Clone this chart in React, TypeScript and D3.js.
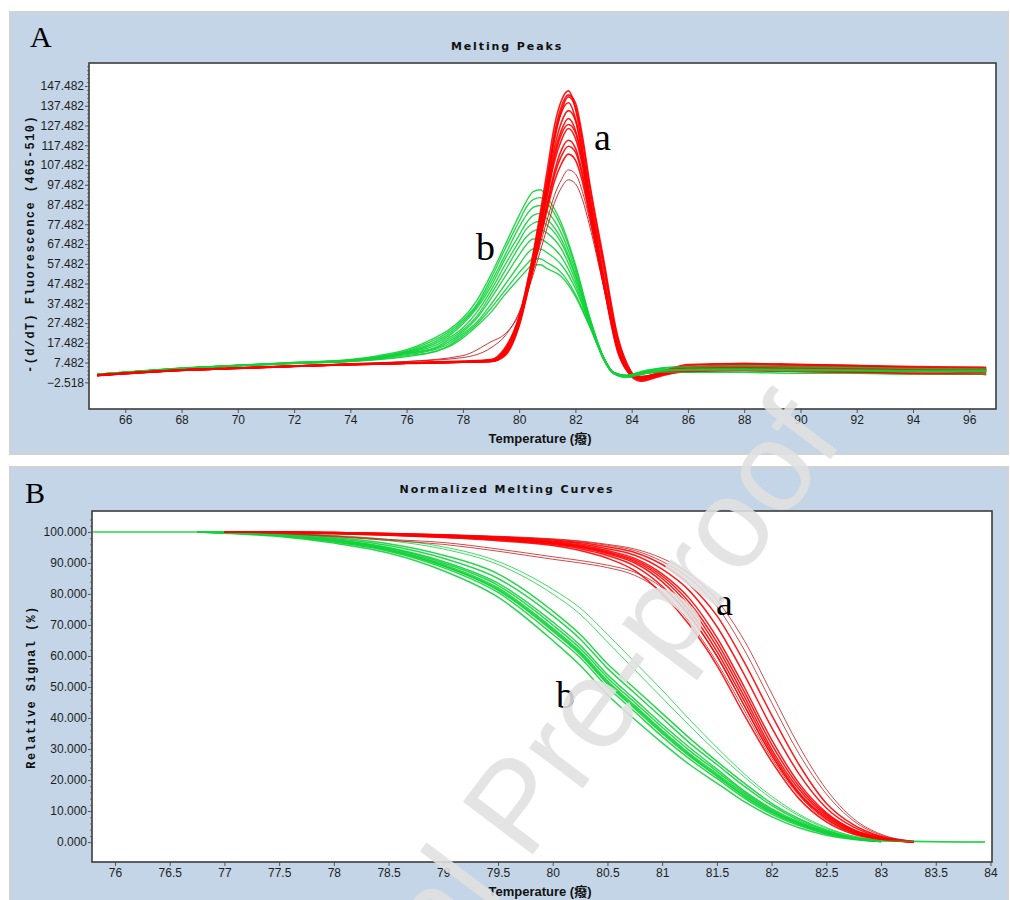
import { useEffect, useRef } from "react"
import * as d3 from "d3"

// ---- Panel A: melting peaks, -(d/dT) fluorescence vs temperature ----
const peakTempsRed = [65, 66, 68, 70, 72, 74, 76, 78, 79, 79.5, 80, 80.5, 81, 81.25, 81.5, 81.75, 82, 82.25, 82.5, 83, 83.5, 83.85, 84.3, 85, 86, 88, 90, 92, 94, 96.6]
const peakRed = [
  [1.0, 2.0, 3.5, 4.5, 5.5, 6.5, 7.2, 7.8, 8.2, 13, 30, 63, 105, 127, 140, 145, 136, 116, 92, 50, 14, 3, -2, 0.5, 3.5, 4.5, 4.0, 3.5, 3.0, 2.5],
  [1.1, 2.1, 3.7, 4.7, 5.7, 6.6, 7.3, 7.9, 8.1, 11.5, 27, 59, 100, 123, 137, 143, 139, 122, 99, 60, 21, 6.5, -1, 1.5, 5, 6.5, 6, 5.5, 5, 4.5],
  [1.2, 2.2, 3.8, 4.8, 5.8, 6.6, 7.3, 7.9, 8.0, 11, 26, 57, 98, 120, 135, 142, 137, 120, 97, 58, 20, 6, -1.5, 1, 4, 5, 4.5, 4, 3.5, 3],
  [0.8, 1.8, 3.6, 4.6, 5.6, 6.4, 7.0, 7.6, 8.5, 14, 31, 62, 101, 121, 134, 139, 131, 112, 89, 47, 13, 3, -1, 1.5, 4.5, 5, 5, 4.5, 4, 3.5],
  [1.0, 2.1, 3.7, 4.7, 5.7, 6.5, 7.1, 7.7, 8.0, 12, 27, 58, 96, 116, 129, 135, 130, 114, 93, 56, 19, 5, -0.5, 2, 5, 5.5, 5, 5, 4.5, 4],
  [1.1, 2.0, 3.6, 4.6, 5.6, 6.5, 7.2, 7.9, 8.3, 13, 29, 59, 95, 113, 125, 131, 125, 109, 88, 48, 14, 3.5, -1, 1, 3, 3.5, 3, 2.5, 2, 1.5],
  [1.0, 2.0, 3.6, 4.6, 5.6, 6.4, 7.1, 7.7, 8.2, 12.5, 28, 57, 93, 111, 123, 128, 124, 110, 90, 52, 17, 4.5, -0.5, 2, 6, 7, 6.5, 6, 5.5, 5],
  [0.9, 1.9, 3.5, 4.5, 5.5, 6.4, 7.1, 7.8, 8.6, 14, 30, 58, 92, 109, 120, 126, 121, 107, 87, 49, 15, 4, 0, 2, 4.5, 5.5, 5, 5, 5, 4.5],
  [1.0, 2.0, 3.6, 4.6, 5.6, 6.5, 7.2, 7.8, 8.4, 13, 28, 55, 88, 104, 115, 120, 116, 103, 85, 48, 15, 4, -0.5, 1.5, 4, 5, 5, 4.5, 4, 3.5],
  [1.1, 2.1, 3.7, 4.7, 5.7, 6.6, 7.3, 8, 8.8, 14, 29, 56, 87, 102, 112, 117, 114, 102, 84, 49, 16, 4, 0, 2.5, 6.5, 7, 6.5, 6, 5, 5],
  [1.2, 2.2, 3.7, 4.7, 5.7, 6.6, 7.4, 8.2, 9, 15, 30, 55, 85, 99, 108, 113, 110, 99, 82, 47, 15, 4, 0, 2, 3, 3.5, 3, 2.5, 2, 1.5],
]
const peakRedDark = [
  [1.0, 2.0, 3.6, 4.6, 5.8, 6.8, 8.0, 10, 15, 21, 33, 55, 80, 92, 100, 105, 103, 94, 80, 47, 15, 4, 0.5, 2, 4.5, 5.5, 5.5, 5, 4.5, 4],
  [1.0, 2.0, 3.6, 4.6, 5.8, 7.0, 8.0, 11, 18, 22, 32, 52, 76, 88, 96, 100, 98, 90, 77, 46, 15, 4, 0.5, 2, 4.5, 5, 5, 5, 4.5, 4],
]
const peakTempsGreen = [65, 66, 68, 70, 72, 74, 75, 76, 77, 77.5, 78, 78.5, 79, 79.5, 80, 80.25, 80.5, 80.75, 81, 81.5, 82, 82.5, 83, 83.35, 83.8, 84.5, 85, 86, 88, 90, 92, 94, 96.6]
const peakGreen = [
  [1.5, 2.5, 4.5, 6, 7.5, 9, 11, 14, 20, 24, 30, 39, 52, 67, 82, 89, 94, 95, 91, 78, 57, 31, 10, 2, 0, 2, 3, 4, 4, 3.5, 3.5, 3, 3],
  [1.4, 2.6, 4.6, 6.1, 7.4, 8.8, 10.5, 13.5, 19, 23, 29, 37, 50, 65, 79, 86, 90, 91, 88, 76, 56, 30, 10, 2.5, 0.5, 3, 4.5, 5.5, 6, 5.5, 5, 4.5, 4.5],
  [1.5, 2.5, 4.5, 6, 7.3, 8.7, 10.3, 13, 18, 22, 28, 36, 48, 62, 76, 82, 86, 87, 84, 73, 54, 30, 10, 2, 0, 2, 3, 3.5, 3.5, 3, 3, 3, 2.5],
  [1.6, 2.7, 4.7, 6.2, 7.5, 8.7, 10.2, 12.8, 17, 21, 27, 35, 46, 60, 72, 78, 82, 83, 80, 70, 52, 29, 9, 2, 0.5, 2.5, 3.5, 4, 4.5, 4, 4, 3.5, 3.5],
  [1.5, 2.5, 4.5, 6, 7.3, 8.5, 10, 12.5, 16, 20, 25, 33, 44, 57, 69, 75, 78, 79, 77, 68, 51, 29, 10, 2.5, 1, 3, 3.5, 4, 4, 4, 3.5, 3.5, 3.5],
  [1.4, 2.4, 4.4, 5.9, 7.2, 8.4, 9.8, 12.2, 15, 19, 24, 31, 42, 54, 66, 71, 74, 75, 73, 65, 49, 28, 10, 2.5, 0.5, 2, 2.5, 2.5, 2.5, 2, 2, 1.5, 1.5],
  [1.5, 2.5, 4.5, 6, 7.2, 8.3, 9.6, 12, 14.5, 18, 23, 30, 40, 51, 62, 67, 70, 70, 68, 61, 47, 27, 9, 2, 0.5, 2.5, 3, 3.5, 4, 3.5, 3.5, 3, 3],
  [1.5, 2.5, 4.5, 5.9, 7.1, 8.2, 9.4, 11.5, 14, 17, 22, 28, 37, 47, 57, 62, 65, 65, 63, 57, 45, 27, 10, 2.5, 1, 3.5, 4.5, 5, 5.5, 5, 5, 4.5, 4],
  [1.6, 2.6, 4.6, 6, 7.1, 8.1, 9.2, 11, 13, 16, 21, 27, 35, 44, 53, 57, 60, 60, 58, 53, 42, 26, 10, 2.5, 1, 3, 3.5, 4, 4, 3.5, 3.5, 3, 3],
  [1.5, 2.5, 4.5, 5.8, 7, 8, 9, 10.5, 13, 15.5, 20, 26, 33, 42, 50, 54, 57, 57, 55, 51, 41, 26, 10, 2.5, 1, 3, 3.5, 4, 4, 4, 3.5, 3, 3],
]
const peakTicksY = [-2.518, 7.482, 17.482, 27.482, 37.482, 47.482, 57.482, 67.482, 77.482, 87.482, 97.482, 107.482, 117.482, 127.482, 137.482, 147.482]
const peakTicksX = [66, 68, 70, 72, 74, 76, 78, 80, 82, 84, 86, 88, 90, 92, 94, 96]

// ---- Panel B: normalized melting curves, relative signal (%) ----
const normTempsRed = [77, 77.5, 78, 78.5, 79, 79.5, 80, 80.25, 80.5, 80.75, 81, 81.25, 81.5, 81.75, 82, 82.25, 82.5, 82.75, 83, 83.3]
const normRed = [
  [100, 99.8, 99.4, 98.9, 98.2, 97.2, 95.6, 94, 91.5, 87.5, 80, 70, 57, 41, 26, 14, 6.5, 2.5, 0.8, 0],
  [100, 99.9, 99.5, 99, 98.4, 97.5, 96, 94.6, 92.4, 89, 82.5, 73, 60, 44, 28, 15.5, 7.5, 3, 1, 0],
  [100, 99.9, 99.6, 99.1, 98.5, 97.6, 96.2, 95, 93, 90, 84, 74.5, 61.5, 45.5, 29, 16, 8, 3.3, 1.1, 0],
  [100, 99.9, 99.6, 99.2, 98.6, 97.8, 96.5, 95.3, 93.3, 90.5, 85, 76, 63, 47, 30, 17, 8.5, 3.6, 1.2, 0],
  [100, 100, 99.7, 99.2, 98.7, 97.9, 96.6, 95.5, 93.6, 91, 85.8, 77.2, 64.5, 48.5, 31.5, 18, 9, 3.8, 1.3, 0],
  [100, 100, 99.7, 99.3, 98.8, 98, 96.8, 95.8, 94, 91.5, 86.5, 78.5, 66, 50, 33, 19, 9.5, 4, 1.4, 0],
  [100, 100, 99.8, 99.4, 98.9, 98.2, 97.1, 96.2, 94.6, 92.5, 88, 81, 69.5, 54, 37, 22, 11, 4.8, 1.6, 0],
  [100, 100, 99.8, 99.5, 99, 98.4, 97.4, 96.6, 95.2, 93.4, 89.5, 83, 73, 58, 41, 25, 12.5, 5.5, 1.8, 0.2],
]
const normRedLate = [
  [100, 100, 99.9, 99.6, 99.2, 98.6, 97.8, 97.1, 96, 94.5, 91.5, 86.5, 78, 65, 48, 31, 17, 7.5, 2.5, 0.3],
  [100, 100, 99.9, 99.5, 99.1, 98.5, 97.6, 96.9, 95.7, 94, 90.5, 85, 76, 62, 45, 28.5, 15.5, 6.8, 2.2, 0.2],
]
const normRedDark = [
  [100, 99.6, 98.7, 97.6, 96.6, 94.5, 92, 90.8, 89.3, 87, 82, 73, 60, 44, 28, 15.5, 7.5, 3, 1, 0],
  [100, 99.5, 98.5, 97.3, 96, 93.8, 91.2, 90, 88.5, 86, 80.5, 71, 58, 42.5, 27, 15, 7, 2.8, 0.9, 0],
]
const normTempsGreen = [75.8, 76.75, 77, 77.5, 78, 78.5, 79, 79.5, 80, 80.25, 80.5, 80.75, 81, 81.25, 81.5, 81.75, 82, 82.25, 82.5, 82.75, 83, 83.95]
const normGreen = [
  [null, 100, 99.6, 98.5, 96.4, 93.2, 87.5, 79, 65, 57, 47.5, 39.5, 32, 25, 19, 13, 8.2, 4.6, 2.2, 0.8, 0.2, null],
  [null, 100, 99.7, 98.8, 96.8, 93.8, 88.5, 80.5, 67, 59.5, 50, 42, 34, 26.8, 20.5, 14.2, 9, 5.3, 2.6, 1, 0.2, null],
  [null, 100, 99.8, 99, 97.3, 94.5, 89.5, 82, 69, 61.5, 52, 44, 36, 28.5, 22, 15.5, 10, 6, 3, 1.2, 0.3, null],
  [null, 100, 99.8, 99.1, 97.6, 95, 90.5, 83.5, 71, 63.5, 54, 46, 38, 30.5, 23.5, 16.5, 10.8, 6.5, 3.3, 1.3, 0.3, null],
  [null, 100, 99.9, 99.3, 97.9, 95.6, 91.5, 85, 73, 65.5, 56, 48, 40, 32, 25, 18, 11.8, 7, 3.6, 1.4, 0.3, null],
  [null, 100, 99.9, 99.4, 98.2, 96.2, 92.5, 86.5, 74.5, 67, 57.5, 49.5, 41.5, 33.5, 26, 19, 12.5, 7.5, 3.9, 1.5, 0.4, null],
  [100, 100, 99.9, 99.2, 97.5, 94.8, 90, 82.8, 70, 62.5, 53, 45, 37, 29.5, 22.8, 16, 10.4, 6.2, 3.1, 1.2, 0.3, 0],
  [null, 100, 99.7, 98.9, 97, 94.1, 89, 81.2, 68, 60.5, 51, 43, 35, 27.7, 21.2, 14.8, 9.5, 5.6, 2.8, 1.1, 0.2, null],
  [null, 100, 99.8, 98.9, 97.1, 94.2, 89.2, 81.5, 68.5, 61, 51.5, 43.5, 35.5, 28, 21.5, 15, 9.7, 5.8, 2.9, 1.1, 0.2, null],
]
const normGreenLate = [
  [null, 100, 99.9, 99.6, 98.7, 97.2, 94.5, 89.5, 80, 73.5, 64.5, 55.5, 46.5, 37.5, 29, 21, 14, 8.5, 4.4, 1.8, 0.5, null],
  [null, null, 100, 99.7, 98.9, 97.6, 95.2, 90.5, 81.5, 75.5, 67, 58, 49, 39.5, 30.5, 22, 14.8, 9, 4.7, 1.9, 0.5, null],
]
const normTicksY = [0, 10, 20, 30, 40, 50, 60, 70, 80, 90, 100]
const normTicksX = [76, 76.5, 77, 77.5, 78, 78.5, 79, 79.5, 80, 80.5, 81, 81.5, 82, 82.5, 83, 83.5, 84]

const BG = "#c3d5e6"
const RED = "#ff0000"
const DARK_RED = "#c81e1e"
const GREEN = "#12d23a"

function drawPanel(svg, cfg) {
  const g = svg.append("g")
  g.append("rect")
    .attr("x", 10).attr("y", cfg.top)
    .attr("width", 998).attr("height", cfg.bottom - cfg.top)
    .attr("fill", BG).attr("stroke", "#d2d2d2").attr("stroke-width", 2)

  const p = cfg.plot
  const x = d3.scaleLinear().domain(cfg.xDomain).range([p.left, p.right])
  const y = d3.scaleLinear().domain(cfg.yDomain).range([p.bottom, p.top])

  g.append("rect")
    .attr("x", p.left).attr("y", p.top)
    .attr("width", p.right - p.left).attr("height", p.bottom - p.top)
    .attr("fill", "#fff")

  const clipId = "clip-" + cfg.id
  g.append("clipPath").attr("id", clipId)
    .append("rect")
    .attr("x", p.left).attr("y", p.top)
    .attr("width", p.right - p.left).attr("height", p.bottom - p.top)

  // tail zone, where the overlapping red and green traces blend to olive
  const tailId = "tail-" + cfg.id
  g.append("clipPath").attr("id", tailId)
    .append("rect")
    .attr("x", x(cfg.tailFrom)).attr("y", p.top)
    .attr("width", p.right - x(cfg.tailFrom)).attr("height", p.bottom - p.top)

  const lineFor = (temps) =>
    d3
      .line()
      .defined((v) => v != null)
      .x((_, i) => x(temps[i]))
      .y((v) => y(v))
      .curve(d3.curveMonotoneX)

  const curves = g.append("g").attr("clip-path", `url(#${clipId})`)
  cfg.series.forEach((s) => {
    const line = lineFor(s.temps)
    s.rows.forEach((row) => {
      curves.append("path")
        .attr("d", line(row))
        .attr("fill", "none")
        .attr("stroke", s.color)
        .attr("stroke-width", s.width)
        .attr("stroke-opacity", s.opacity)
    })
  })

  const tail = g.append("g").attr("clip-path", `url(#${tailId})`)
  cfg.series.filter((s) => s.blend).forEach((s) => {
    const line = lineFor(s.temps)
    s.rows.forEach((row) => {
      tail.append("path")
        .attr("d", line(row))
        .attr("fill", "none")
        .attr("stroke", s.color)
        .attr("stroke-width", s.width)
        .attr("stroke-opacity", 0.5)
    })
  })

  // 坐标轴
  const yAxis = g.append("g").attr("transform", `translate(${p.left},0)`)
    .call(d3.axisLeft(y).tickValues(cfg.ticksY).tickSize(4).tickPadding(1).tickFormat(d3.format(".3f")))
  yAxis.select(".domain").remove()
  yAxis.selectAll("text").attr("font-family", "'Liberation Sans', Arial, sans-serif").attr("font-size", 12).attr("fill", "#1e1e1e")
  yAxis.selectAll("line").attr("stroke", "#555")

  const yMinor = g.append("g").attr("transform", `translate(${p.left},0)`)
    .call(d3.axisLeft(y).tickValues(cfg.minorY).tickSize(2).tickFormat(() => ""))
  yMinor.select(".domain").remove()
  yMinor.selectAll("line").attr("stroke", "#777")

  const xAxis = g.append("g").attr("transform", `translate(0,${p.bottom})`)
    .call(d3.axisBottom(x).tickValues(cfg.ticksX).tickSize(4).tickPadding(2).tickFormat(d3.format("")))
  xAxis.select(".domain").remove()
  xAxis.selectAll("text").attr("font-family", "'Liberation Sans', Arial, sans-serif").attr("font-size", 12).attr("fill", "#1e1e1e")
  xAxis.selectAll("line").attr("stroke", "#555")

  g.append("rect")
    .attr("x", p.left).attr("y", p.top)
    .attr("width", p.right - p.left).attr("height", p.bottom - p.top)
    .attr("fill", "none").attr("stroke", "#3c3c3c").attr("stroke-width", 1.6)

  g.append("text")
    .attr("x", 507).attr("y", cfg.top + cfg.titleDy)
    .attr("text-anchor", "middle")
    .attr("font-family", "'DejaVu Sans', Verdana, sans-serif")
    .attr("font-weight", "bold").attr("font-size", 11)
    .attr("letter-spacing", 1.9)
    .attr("fill", "#111")
    .text(cfg.title)

  g.append("text")
    .attr("x", 540).attr("y", p.bottom + 34)
    .attr("text-anchor", "middle")
    .attr("font-family", "'Liberation Sans', 'Noto Sans CJK SC', sans-serif")
    .attr("font-weight", "bold").attr("font-size", 13)
    .attr("fill", "#111")
    .text("Temperature (癈)")

  g.append("text")
    .attr("transform", `translate(${cfg.yLabelX},${cfg.yLabelY}) rotate(-90)`)
    .attr("text-anchor", "middle")
    .attr("font-family", "'Liberation Mono', 'Courier New', monospace")
    .attr("font-weight", "bold").attr("font-size", 12)
    .attr("letter-spacing", 1.4)
    .attr("fill", "#111")
    .text(cfg.yLabel)

  g.append("text")
    .attr("x", cfg.letter.x).attr("y", cfg.letter.y)
    .attr("font-family", "'Liberation Serif', 'Times New Roman', serif")
    .attr("font-size", 30).attr("fill", "#000")
    .text(cfg.letter.text)

  cfg.marks.forEach((m) => {
    g.append("text")
      .attr("x", m.x).attr("y", m.y)
      .attr("font-family", "'Liberation Serif', 'Times New Roman', serif")
      .attr("font-size", 38).attr("fill", "#000")
      .text(m.text)
  })
}

export default function App() {
  const svgRef = useRef(null)

  useEffect(() => {
    if (!svgRef.current) return
    const svg = d3.select(svgRef.current)
    svg.selectAll("*").remove()

    const width = 1010
    const height = 900
    svg.attr("width", width).attr("height", height).attr("viewBox", [0, 0, width, height])

    drawPanel(svg, {
      id: "a",
      top: 12,
      bottom: 454,
      plot: { left: 89, right: 996, top: 63, bottom: 409 },
      xDomain: [64.71, 96.95],
      yDomain: [-16.03, 159.13],
      tailFrom: 83.9,
      ticksY: peakTicksY,
      minorY: d3.range(-2.518, 159, 2),
      ticksX: peakTicksX,
      title: "Melting Peaks",
      titleDy: 38,
      yLabel: "-(d/dT) Fluorescence (465-510)",
      yLabelX: 34,
      yLabelY: 244,
      letter: { text: "A", x: 30, y: 47 },
      marks: [
        { text: "a", x: 594, y: 150 },
        { text: "b", x: 476, y: 260 },
      ],
      series: [
        { temps: peakTempsGreen, rows: peakGreen, color: GREEN, width: 1.4, opacity: 0.9, blend: true },
        { temps: peakTempsRed, rows: peakRedDark, color: DARK_RED, width: 1, opacity: 0.9 },
        { temps: peakTempsRed, rows: peakRed, color: RED, width: 1.6, opacity: 0.9 },
      ],
    })

    drawPanel(svg, {
      id: "b",
      top: 467,
      bottom: 902,
      plot: { left: 92, right: 992, top: 511, bottom: 862 },
      xDomain: [75.79, 84.014],
      yDomain: [-6.44, 106.76],
      tailFrom: 82.85,
      ticksY: normTicksY,
      minorY: d3.range(0, 106, 2),
      ticksX: normTicksX,
      title: "Normalized Melting Curves",
      titleDy: 26,
      yLabel: "Relative Signal (%)",
      yLabelX: 35,
      yLabelY: 687,
      letter: { text: "B", x: 25, y: 503 },
      marks: [
        { text: "a", x: 716, y: 615 },
        { text: "b", x: 556, y: 708 },
      ],
      series: [
        { temps: normTempsGreen, rows: normGreen, color: GREEN, width: 1.5, opacity: 0.9, blend: true },
        { temps: normTempsGreen, rows: normGreenLate, color: GREEN, width: 0.9, opacity: 0.9 },
        { temps: normTempsRed, rows: normRedDark, color: DARK_RED, width: 0.9, opacity: 0.9 },
        { temps: normTempsRed, rows: normRedLate, color: DARK_RED, width: 0.9, opacity: 0.9 },
        { temps: normTempsRed, rows: normRed, color: RED, width: 1.5, opacity: 0.9 },
      ],
    })

    // 水印
    svg.append("text")
      .attr("transform", "translate(845,440) rotate(-53)")
      .attr("text-anchor", "end")
      .attr("font-family", "'Liberation Sans', Arial, sans-serif")
      .attr("font-size", 127)
      .attr("fill", "#e0e0e0")
      .attr("fill-opacity", 0.88)
      .text("Journal Pre-proof")
  }, [])

  return (
    <svg ref={svgRef} style={{ position: "absolute", left: 0, top: 0, background: "#fff" }}></svg>
  )
}
